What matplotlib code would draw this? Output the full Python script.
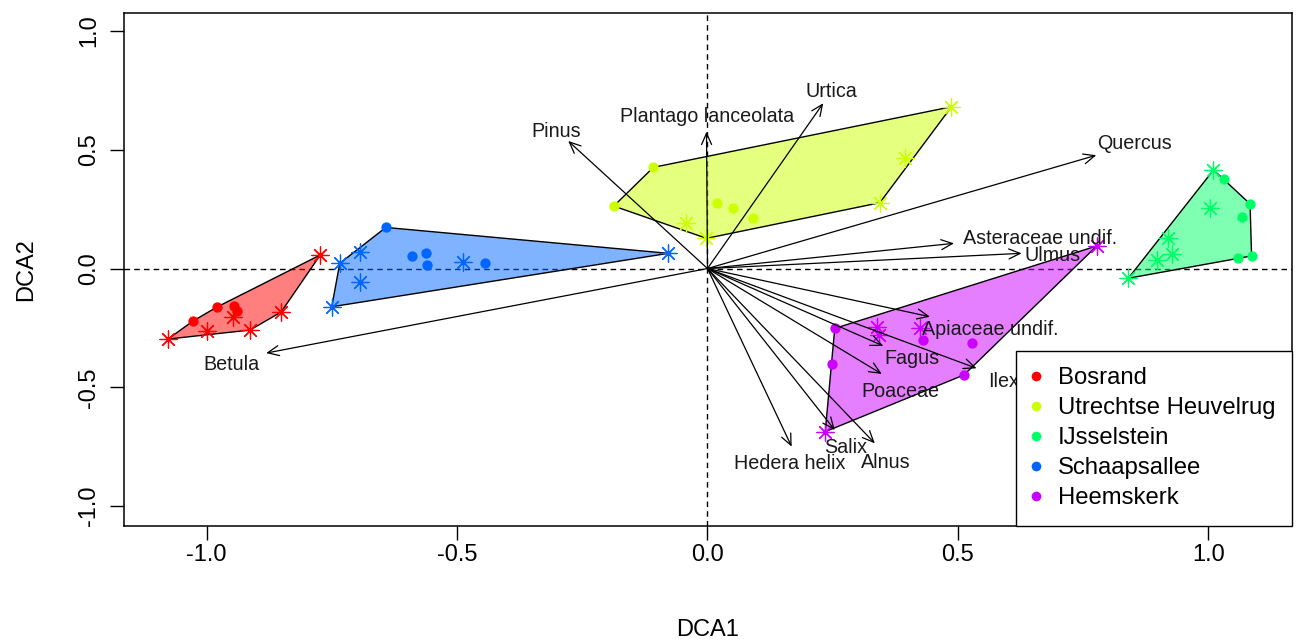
import numpy as np
import matplotlib
matplotlib.use("Agg")
import matplotlib.pyplot as plt
from matplotlib.patches import Polygon
from matplotlib.lines import Line2D

plt.rcParams['font.family'] = ['Liberation Sans', 'DejaVu Sans']

# ---- site scores (DCA1, DCA2) per location; dots and asterisks are two sample types
groups = ["Bosrand", "Utrechtse Heuvelrug", "IJsselstein", "Schaapsallee", "Heemskerk"]
group_colors = ["#FF0000", "#CCFF00", "#00FF66", "#0066FF", "#CC00FF"]

bos_dot_x = [-1.027, -0.979, -0.945, -0.940]
bos_dot_y = [-0.221, -0.162, -0.158, -0.178]
bos_star_x = [-1.077, -0.999, -0.947, -0.913, -0.851, -0.773]
bos_star_y = [-0.297, -0.263, -0.204, -0.259, -0.183, 0.057]

utr_dot_x = [-0.108, -0.187, 0.018, 0.051, 0.091]
utr_dot_y = [0.426, 0.263, 0.275, 0.253, 0.211]
utr_star_x = [0.487, 0.394, 0.344, -0.042, -0.002]
utr_star_y = [0.681, 0.464, 0.277, 0.190, 0.127]

ijs_dot_x = [1.030, 1.083, 1.066, 1.086, 1.059]
ijs_dot_y = [0.376, 0.272, 0.218, 0.053, 0.043]
ijs_star_x = [1.010, 1.003, 0.920, 0.927, 0.897, 0.840]
ijs_star_y = [0.415, 0.253, 0.127, 0.061, 0.036, -0.041]

sch_dot_x = [-0.642, -0.590, -0.562, -0.559, -0.444]
sch_dot_y = [0.173, 0.053, 0.064, 0.015, 0.022]
sch_star_x = [-0.734, -0.694, -0.694, -0.750, -0.489, -0.078]
sch_star_y = [0.022, 0.071, -0.056, -0.161, 0.029, 0.064]

hee_dot_x = [0.254, 0.248, 0.431, 0.527, 0.512]
hee_dot_y = [-0.252, -0.402, -0.301, -0.315, -0.448]
hee_star_x = [0.777, 0.338, 0.342, 0.424, 0.235]
hee_star_y = [0.095, -0.245, -0.280, -0.252, -0.687]

# ---- species vectors (arrow tips) and label positions
species = ["Pinus", "Plantago lanceolata", "Urtica", "Quercus", "Asteraceae undif.",
           "Ulmus", "Apiaceae undif.", "Fagus", "Ilex", "Poaceae", "Salix",
           "Alnus", "Hedera helix", "Betula"]
spec_x = [-0.278, -0.002, 0.231, 0.776, 0.492, 0.627, 0.444, 0.351, 0.537, 0.348,
          0.254, 0.334, 0.168, -0.881]
spec_y = [0.537, 0.576, 0.696, 0.477, 0.106, 0.064, -0.203, -0.326, -0.420, -0.444,
          -0.680, -0.736, -0.750, -0.356]
lab_x = [-0.303, -0.001, 0.248, 0.853, 0.664, 0.688, 0.564, 0.408, 0.590, 0.384,
         0.276, 0.356, 0.165, -0.951]
lab_y = [0.579, 0.638, 0.747, 0.528, 0.128, 0.053, -0.255, -0.377, -0.474, -0.516,
         -0.752, -0.815, -0.819, -0.402]

x_ticks = [-1.0, -0.5, 0.0, 0.5, 1.0]
y_ticks = [-1.0, -0.5, 0.0, 0.5, 1.0]


def convex_hull(xs, ys):
    pts = sorted(set(zip(xs, ys)))
    if len(pts) < 3:
        return pts

    def cross(o, a, b):
        return (a[0] - o[0]) * (b[1] - o[1]) - (a[1] - o[1]) * (b[0] - o[0])

    lower, upper = [], []
    for p in pts:
        while len(lower) >= 2 and cross(lower[-2], lower[-1], p) <= 0:
            lower.pop()
        lower.append(p)
    for p in reversed(pts):
        while len(upper) >= 2 and cross(upper[-2], upper[-1], p) <= 0:
            upper.pop()
        upper.append(p)
    return lower[:-1] + upper[:-1]


fig = plt.figure(figsize=(12.98, 6.43), dpi=100)
ax = fig.add_axes([124 / 1298, 1 - 526 / 643, (1292 - 124) / 1298, (526 - 13) / 643])
ax.set_xlim(-1.1647, 1.1667)
ax.set_ylim(-1.084, 1.0758)

ax.axhline(0, color="black", lw=1.0, ls=(0, (4, 3)), zorder=1)
ax.axvline(0, color="black", lw=1.0, ls=(0, (4, 3)), zorder=1)

site_data = [
    (bos_dot_x, bos_dot_y, bos_star_x, bos_star_y),
    (utr_dot_x, utr_dot_y, utr_star_x, utr_star_y),
    (ijs_dot_x, ijs_dot_y, ijs_star_x, ijs_star_y),
    (sch_dot_x, sch_dot_y, sch_star_x, sch_star_y),
    (hee_dot_x, hee_dot_y, hee_star_x, hee_star_y),
]

asterisk = (8, 2, 0)
for (dx, dy, sx, sy), col in zip(site_data, group_colors):
    hull = convex_hull(dx + sx, dy + sy)
    ax.add_patch(Polygon(hull, closed=True, facecolor=col, alpha=0.5,
                         edgecolor="none", zorder=2))
    ax.add_patch(Polygon(hull, closed=True, facecolor="none",
                         edgecolor="black", lw=1.0, zorder=3))
    ax.scatter(dx, dy, s=55, color=col, marker="o", linewidths=0, zorder=4)
    ax.scatter(sx, sy, s=150, color=col, marker=asterisk, linewidths=0.9, zorder=4)

for x, y in zip(spec_x, spec_y):
    ax.annotate("", xy=(x, y), xytext=(0, 0),
                arrowprops=dict(arrowstyle="->,head_length=0.45,head_width=0.2",
                                mutation_scale=18, lw=0.9, color="black",
                                shrinkA=0, shrinkB=0),
                zorder=5)

for name, x, y in zip(species, lab_x, lab_y):
    ax.text(x, y, name, ha="center", va="center", fontsize=14.2,
            color="#1a1a1a", zorder=6)

ax.set_xticks(x_ticks)
ax.set_yticks(y_ticks)
ax.set_xticklabels([f"{v:.1f}" for v in x_ticks])
ax.set_yticklabels([f"{v:.1f}" for v in y_ticks], rotation=90, va="center")
ax.tick_params(axis="both", direction="out", length=10, width=1.0,
               labelsize=17, colors="black")
ax.tick_params(axis="x", pad=3)
ax.tick_params(axis="y", pad=7)
for sp in ax.spines.values():
    sp.set_linewidth(1.1)

ax.set_xlabel("DCA1", fontsize=17, labelpad=38)
ax.set_ylabel("DCA2", fontsize=17, labelpad=30)

handles = [Line2D([], [], marker="o", ls="none", color=c, markersize=7,
                  markeredgewidth=0) for c in group_colors]
leg = ax.legend(handles, groups, loc="lower right", fontsize=17.2,
                frameon=True, fancybox=False, borderaxespad=0,
                borderpad=0.7, handlelength=0.3, handletextpad=0.75,
                labelspacing=0.335)
leg.get_frame().set_edgecolor("black")
leg.get_frame().set_linewidth(1.0)
leg.get_frame().set_alpha(1)
leg.set_zorder(7)

fig.savefig("out.png", dpi=100)
